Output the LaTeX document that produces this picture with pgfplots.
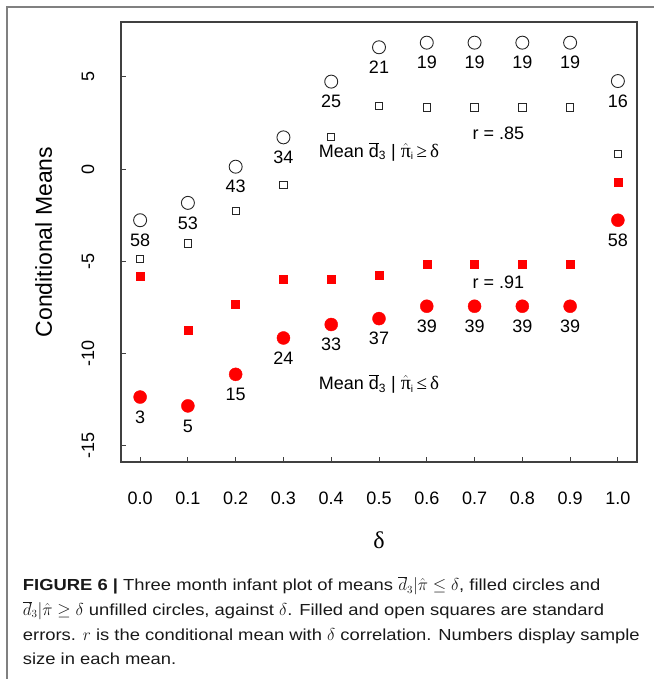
\documentclass[border=0pt]{standalone}
\usepackage{fontspec}
\setmainfont{Liberation Sans}
\newfontfamily\serif{Liberation Serif}
\newfontfamily\capfont[FakeStretch=1.15]{Liberation Sans}
\usepackage{pgfplots}
\usepackage{pgfplotstable}
\pgfplotsset{compat=1.18}

\pgfplotstableread{
x    mo     so     mf      sf     no  nf
0.0  -2.77  -4.88  -12.35  -5.80  58  3
0.1  -1.83  -4.03  -12.83  -8.73  53  5
0.2   0.13  -2.26  -11.12  -7.34  43  15
0.3   1.72  -0.87   -9.15  -5.98  34  24
0.4   4.74   1.75   -8.42  -5.95  25  33
0.5   6.60   3.43   -8.10  -5.75  21  37
0.6   6.85   3.33   -7.43  -5.17  19  39
0.7   6.85   3.33   -7.43  -5.17  19  39
0.8   6.85   3.33   -7.43  -5.17  19  39
0.9   6.85   3.33   -7.43  -5.17  19  39
1.0   4.77   0.81   -2.77  -0.69  16  58
}\datatab

\newcommand\fs{\fontsize{18}{20}\selectfont}
\newcommand\capfs{\capfont\fontsize{16}{20}\selectfont}
\newcommand\annot[1]{Mean \ensuremath{\overline{\mbox{d}}_{\mbox{\fontsize{12}{12}\selectfont 3}}}\ |\ \ensuremath{\hat{\mbox{\serif\fontsize{20}{20}\selectfont π}}_{\mbox{\fontsize{10}{10}\selectfont i}}}\,{\serif\fontsize{19}{20}\selectfont #1\,δ}}

\begin{document}
\begin{tikzpicture}[x=1pt,y=1pt]
\useasboundingbox (0,0) rectangle (654,-679);
\draw[black!50, line width=1.6pt] (7,-679) -- (7,-7) -- (654,-7);
\begin{axis}[
  at={(121pt,-462pt)}, anchor=south west,
  scale only axis, width=516pt, height=440pt,
  xmin=-0.04, xmax=1.04, ymin=-15.87, ymax=7.97,
  axis line style={black!75, line width=1.1pt},
  tick style={black!75, line width=1pt},
  tick align=inside, major tick length=5pt,
  xtick pos=bottom, ytick pos=left,
  xtick={0,0.1,0.2,0.3,0.4,0.5,0.6,0.7,0.8,0.9,1.0},
  xticklabels={0.0,0.1,0.2,0.3,0.4,0.5,0.6,0.7,0.8,0.9,1.0},
  ytick={-15,-10,-5,0,5},
  /pgf/number format/assume math mode=true,
  tick label style={font=\fs},
  xticklabel style={anchor=center, yshift=-36pt},
  yticklabel style={anchor=center, xshift=-33pt, rotate=90},
  ylabel={Conditional Means},
  ylabel style={font=\fontsize{23}{26}\selectfont, at={(axis description cs:-0.150,0.5)}, anchor=center},
  xlabel={\serif δ},
  xlabel style={font=\fontsize{24}{26}\selectfont, at={(axis description cs:0.5,-0.178)}, anchor=center},
  point meta=explicit symbolic,
  every node near coord/.style={anchor=center, yshift=-20pt, font=\fs, text=black},
  clip=false,
]
\addplot[only marks, mark=o, mark size=6.5pt, black!85, line width=0.9pt, nodes near coords]
  table[x=x, y=mo, meta=no] {\datatab};
\addplot[only marks, mark=square, mark size=3.7pt, black!85, line width=0.9pt]
  table[x=x, y=so] {\datatab};
\addplot[only marks, mark=square*, mark size=4pt, red, fill=red]
  table[x=x, y=sf] {\datatab};
\addplot[only marks, mark=*, mark size=6.5pt, red, fill=red, nodes near coords]
  table[x=x, y=mf, meta=nf] {\datatab};
\node[font=\fs, inner sep=0] at (axis cs:0.75,1.94) {r = .85};
\node[font=\fs, inner sep=0] at (axis cs:0.75,-6.11) {r = .91};
\node[font=\fs, inner sep=0] at (axis cs:0.5,0.94) {\annot{≥}};
\node[font=\fs, inner sep=0] at (axis cs:0.5,-11.64) {\annot{≤}};
\end{axis}
\begin{scope}[every node/.style={anchor=base west, inner sep=0, font=\capfs, text=black!90}]
\node at (22.7,-590.5) {\textbf{FIGURE 6 |} Three month infant plot of means $\overline{d}_3|\hat{\pi} \leq \delta$, filled circles and};
\node at (22.7,-615.3) {$\overline{d}_3|\hat{\pi} \geq \delta$ unfilled circles, against $\delta$. Filled and open squares are standard};
\node at (22.7,-640) {errors. $r$ is the conditional mean with $\delta$ correlation. Numbers display sample};
\node at (22.7,-664.7) {size in each mean.};
\end{scope}
\end{tikzpicture}
\end{document}
